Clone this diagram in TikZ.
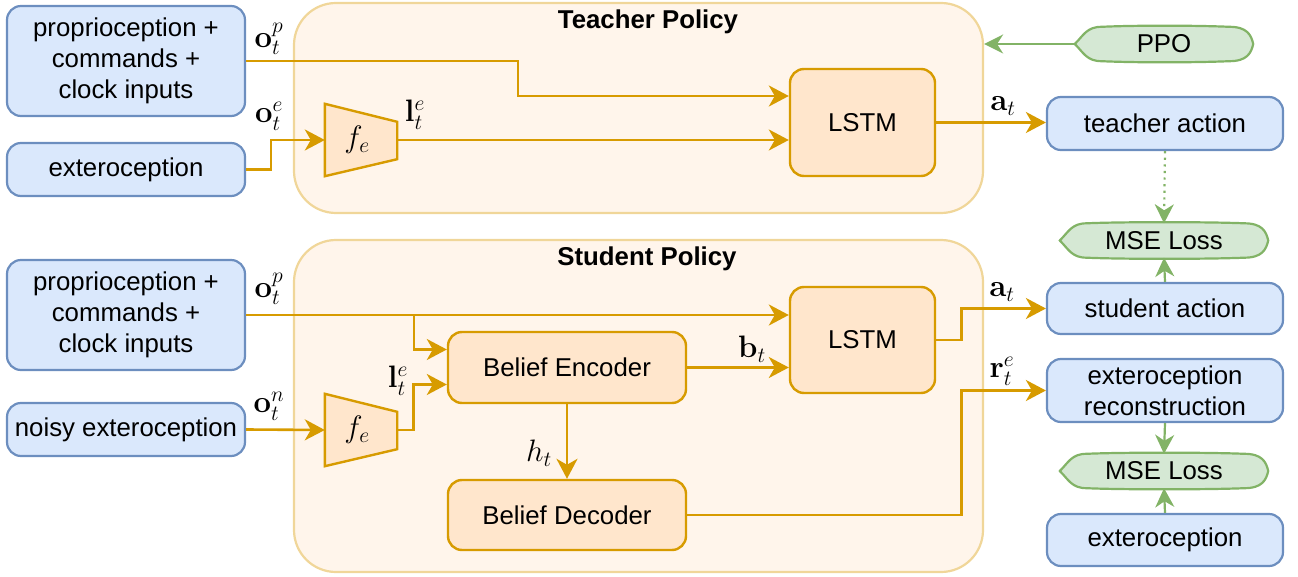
\RequirePackage{fix-cm}
\documentclass[tikz,border=0pt]{standalone}
\usepackage{amsmath}
\usepackage[no-math]{fontspec}
\setmainfont{Liberation Sans}
\usetikzlibrary{arrows.meta,calc}

\definecolor{bluefill}{HTML}{DAE8FC}
\definecolor{blueline}{HTML}{6C8EBF}
\definecolor{orangefill}{HTML}{FFE6CC}
\definecolor{orangeline}{HTML}{D79B00}
\definecolor{greenfill}{HTML}{D5E8D4}
\definecolor{greenline}{HTML}{82B366}
\definecolor{groupfill}{HTML}{FFF5EB}
\definecolor{groupline}{HTML}{F0D699}

\pgfdeclarelayer{back}
\pgfdeclarelayer{mid}
\pgfsetlayers{back,mid,main}

% outline of the lens-shaped loss / optimiser nodes
\newcommand{\lensoutline}[1]{%
  \begin{pgfonlayer}{mid}
    \path[draw=greenline, fill=greenfill, line width=2.2pt]
      (#1.west) .. controls ($(#1.west)+(9,-9)$) and ($(#1.north west)+(12,0)$) .. ($(#1.north west)+(27,0)$)
      .. controls ($(#1.north west)+(60,-1.5)$) and ($(#1.north east)+(-60,-1.5)$) .. ($(#1.north east)+(-24,0)$)
      .. controls ($(#1.north east)+(-6,0)$) and ($(#1.east)+(-2,-9)$) .. (#1.east)
      .. controls ($(#1.east)+(-2,9)$) and ($(#1.south east)+(-6,0)$) .. ($(#1.south east)+(-24,0)$)
      .. controls ($(#1.south east)+(-60,1.5)$) and ($(#1.south west)+(60,1.5)$) .. ($(#1.south west)+(27,0)$)
      .. controls ($(#1.south west)+(12,0)$) and ($(#1.west)+(9,9)$) .. (#1.west) -- cycle;
  \end{pgfonlayer}}

% trapezoid outline of the exteroceptive encoder
\newcommand{\encoutline}[1]{%
  \begin{pgfonlayer}{mid}
    \path[draw=orangeline, fill=orangefill, line width=2.4pt, line join=miter]
      (#1.north west) -- ($(#1.north east)+(0,18)$) -- ($(#1.south east)+(0,-17)$)
      -- (#1.south west) -- cycle;
  \end{pgfonlayer}}

\begin{document}
\begin{tikzpicture}[x=1pt,y=-1pt,
  every node/.style={font=\fontsize{25.8}{31}\selectfont, text=black},
  inbox/.style={draw=blueline, fill=bluefill, line width=2.2pt, rounded corners=14pt,
    align=center, inner sep=0pt, minimum width=238pt},
  block/.style={draw=orangeline, fill=orangefill, line width=2.4pt, rounded corners=14pt,
    align=center, inner sep=0pt},
  group/.style={draw=groupline, fill=groupfill, line width=2.2pt, rounded corners=42pt,
    inner sep=0pt},
  lens/.style={inner sep=0pt, minimum height=34pt},
  encoder/.style={inner sep=0pt, minimum width=72pt, minimum height=72pt,
    font=\fontsize{31}{36}\selectfont},
  lbl/.style={inner sep=0pt, font=\fontsize{31}{36}\selectfont},
  flow/.style={draw=orangeline, line width=2.6pt, -{Stealth[length=20pt,width=21pt,inset=6pt]}},
  gflow/.style={draw=greenline, line width=2.2pt, -{Stealth[length=19pt,width=19pt,inset=6pt]}},
]
\useasboundingbox (0,0) rectangle (1298,577);

% policy groups
\begin{pgfonlayer}{back}
  \node[group, minimum width=689pt, minimum height=210pt] (teacher) at (638.5,108) {};
  \node[group, minimum width=689pt, minimum height=332pt] (student) at (638.5,406) {};
\end{pgfonlayer}
\node[font=\fontsize{25.8}{31}\selectfont\bfseries] (tTitle) at (648,22) {Teacher Policy};
\node[font=\fontsize{25.8}{31}\selectfont\bfseries] (sTitle) at (647,259) {Student Policy};

% inputs
\node[inbox, minimum height=110pt] (prop1) at (126,61) {proprioception +\\commands +\\clock inputs};
\node[inbox, minimum height=53pt] (ext1) at (126,169.5) {exteroception};
\node[inbox, minimum height=110pt] (prop2) at (126,315) {proprioception +\\commands +\\clock inputs};
\node[inbox, minimum height=53pt] (noisy) at (126,429.5) {noisy exteroception};

% teacher internals
\node[encoder] (feT) at (361,140) {$f_e$\hspace*{8pt}};
\encoutline{feT}
\node[block, minimum width=145pt, minimum height=107pt] (lstmT) at (862.5,122.5) {LSTM};

% student internals
\node[encoder] (feS) at (361,430) {$f_e$\hspace*{8pt}};
\encoutline{feS}
\node[block, minimum width=238pt, minimum height=71pt] (enc) at (567,367.5) {Belief Encoder};
\node[block, minimum width=238pt, minimum height=70pt] (dec) at (567,515) {Belief Decoder};
\node[block, minimum width=145pt, minimum height=106pt] (lstmS) at (862.5,340) {LSTM};

% outputs and losses
\node[lens, minimum width=178pt] (ppo) at (1164,44) {PPO};
\lensoutline{ppo}
\node[inbox, minimum width=236pt, minimum height=53pt] (actT) at (1165,123.5) {teacher action};
\node[lens, minimum width=208pt] (mse1) at (1164,240.5) {MSE Loss};
\lensoutline{mse1}
\node[inbox, minimum width=236pt, minimum height=51pt] (actS) at (1165,308.5) {student action};
\node[inbox, minimum width=236pt, minimum height=63pt] (rec) at (1165,390.5) {exteroception\\reconstruction};
\node[lens, minimum width=208pt] (mse2) at (1164,471) {MSE Loss};
\lensoutline{mse2}
\node[inbox, minimum width=236pt, minimum height=52pt] (ext2) at (1165,540) {exteroception};

% teacher connections
\draw[flow] (prop1.east) -- ++(272,0) |- ($(lstmT.west)+(0,-26.5)$);
\draw[flow] (ext1.east) -- ++(25,0) |- (feT.west);
\draw[flow] (feT.east) -- (feT.east -| lstmT.west);
\draw[flow] (lstmT.east) -- (lstmT.east -| actT.west);

% student connections
\draw[flow] (prop2.east) -- (prop2.east -| lstmS.west);
\draw[flow] ($(prop2.east)+(168,0)$) |- ($(enc.west)+(0,-18)$);
\draw[flow] (noisy.east) -- (feS.west);
\draw[flow] (feS.east) -- ++(16,0) |- ($(enc.west)+(0,17)$);
\draw[flow] (enc.east) -- (enc.east -| lstmS.west);
\draw[flow] (enc.south) -- (dec.north);
\draw[flow] (lstmS.east) -- ++(25,0) |- (actS.west);
\draw[flow] (dec.east) -- ++(274,0) |- (rec.west);

% training signals
\draw[gflow] (ppo.west) -- (ppo.west -| teacher.east);
\draw[gflow, dash pattern=on 2.2pt off 4.4pt] (actT.south) -- (mse1.north);
\draw[gflow] (actS.north) -- (mse1.south);
\draw[gflow] (rec.south) -- (mse2.north);
\draw[gflow] (ext2.north) -- (mse2.south);

% signal labels
\node[lbl] (lOp1) at (269,39) {$\mathbf{o}_t^p$};
\node[lbl] (lOe) at (269,116) {$\mathbf{o}_t^e$};
\node[lbl] (lLe1) at (415,115) {$\mathbf{l}_t^e$};
\node[lbl] (lAt1) at (1003,106) {$\mathbf{a}_t$};
\node[lbl] (lOp2) at (269,289) {$\mathbf{o}_t^p$};
\node[lbl] (lOn) at (269,406) {$\mathbf{o}_t^n$};
\node[lbl] (lLe2) at (398,381) {$\mathbf{l}_t^e$};
\node[lbl] (lBt) at (752,349) {$\mathbf{b}_t$};
\node[lbl] (lHt) at (539,453) {$h_t$};
\node[lbl] (lAt2) at (1002,292) {$\mathbf{a}_t$};
\node[lbl] (lRe) at (1002,371) {$\mathbf{r}_t^e$};
\end{tikzpicture}
\end{document}
